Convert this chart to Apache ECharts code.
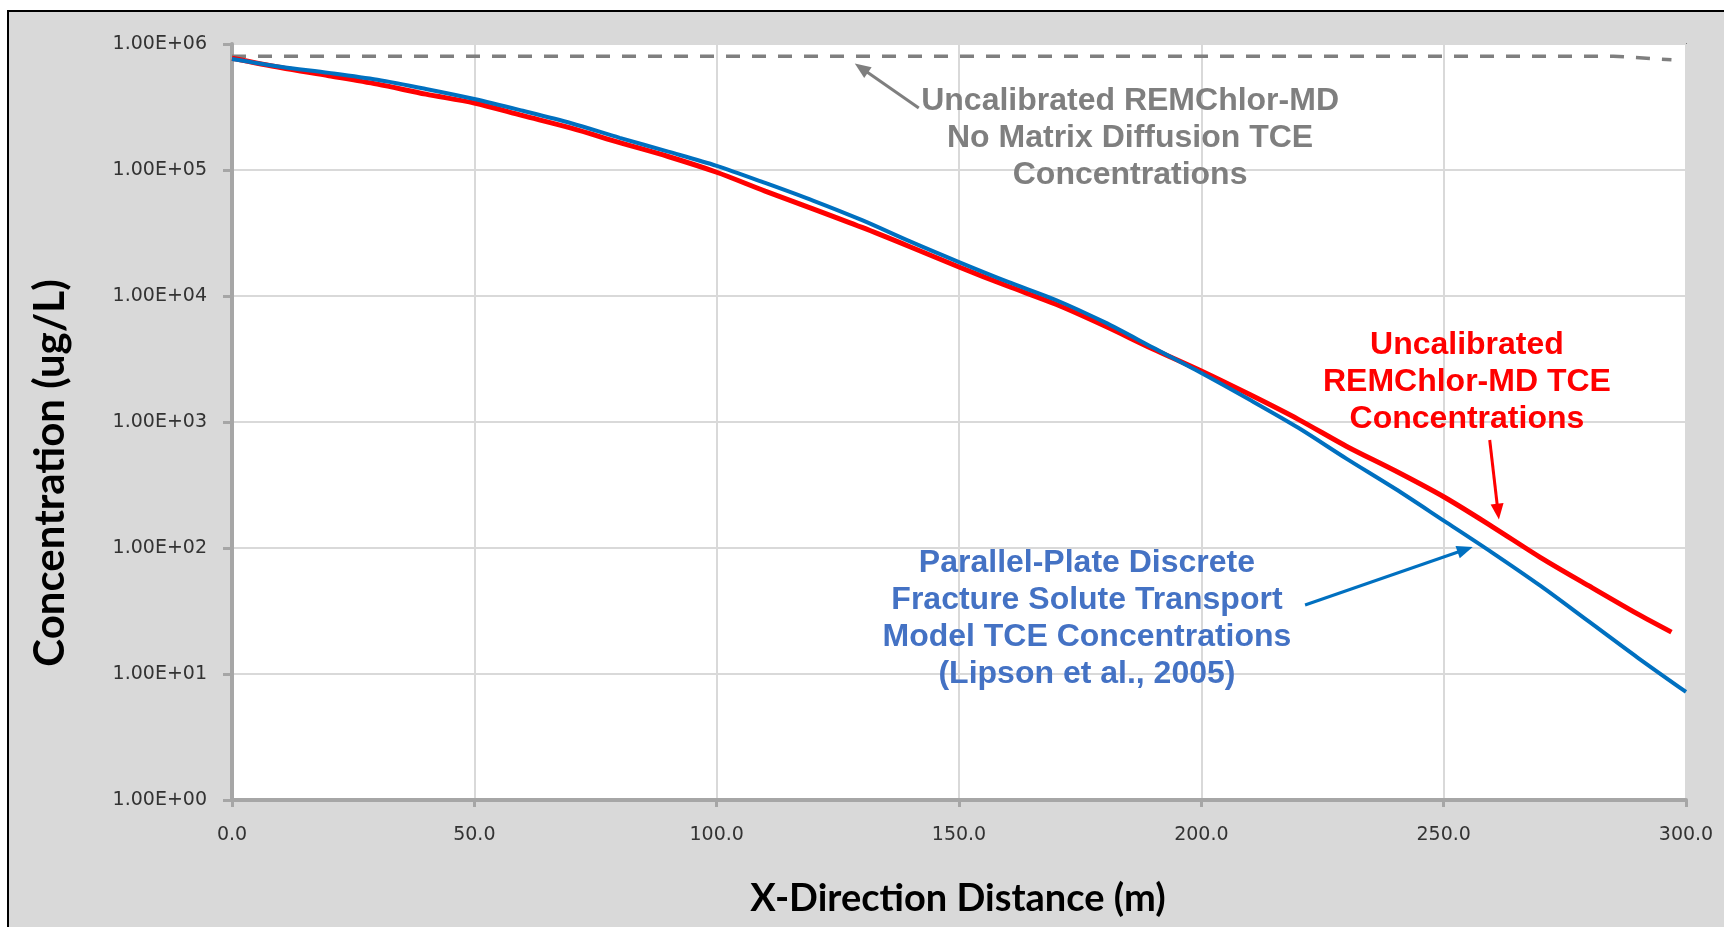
<!DOCTYPE html>
<html>
<head>
<meta charset="utf-8">
<script src="https://cdn.jsdelivr.net/npm/echarts@6/dist/echarts.min.js"></script>
<style>
  html, body { margin: 0; padding: 0; background: #ffffff; }
  #frame { position: absolute; left: 7px; top: 10px; width: 1800px; height: 1000px;
           background: #d9d9d9; border: 2px solid #000; }
  #chart { position: absolute; left: 0; top: 0; width: 1724px; height: 927px; }
</style>
</head>
<body>
<div id="frame"></div>
<div id="chart"></div>
<script>
// ---- data ----
const xTickLabels = ['0.0', '50.0', '100.0', '150.0', '200.0', '250.0', '300.0'];
const yTickLabels = ['1.00E+00', '1.00E+01', '1.00E+02', '1.00E+03', '1.00E+04', '1.00E+05', '1.00E+06'];

// Parallel-plate discrete fracture model (blue)
const distBlue = [0, 10, 20, 30, 40, 50, 60, 70, 80, 90, 100, 110, 120, 130, 140, 150, 160, 170, 180, 190, 200, 210, 220, 230, 240, 250, 260, 270, 280, 290, 300];
const concBlue = [760000, 660000, 590000, 520000, 440000, 366000, 295000, 235000, 180000, 140000, 108000, 79000, 57000, 40000, 27000, 18600, 13000, 9300, 6200, 3900, 2450, 1500, 900, 510, 295, 165, 92, 50, 26, 13.5, 7.2];

// Uncalibrated REMChlor-MD (red)
const distRed = [0, 10, 20, 30, 40, 50, 60, 70, 80, 90, 100, 110, 120, 130, 140, 150, 160, 170, 180, 190, 200, 210, 220, 230, 240, 250, 260, 270, 280, 290, 297];
const concRed = [770000, 650000, 560000, 480000, 400000, 340000, 270000, 215000, 165000, 128000, 96000, 68000, 49000, 35000, 24500, 17000, 12000, 8600, 5800, 3800, 2540, 1650, 1050, 640, 410, 255, 148, 84, 50, 30, 21.5];

// Uncalibrated REMChlor-MD, no matrix diffusion (gray dashed)
const distNoMD = [0, 100, 200, 285, 297];
const concNoMD = [800000, 800000, 800000, 800000, 750000];

// ---- build ----
function pairs(xs, ys) { return xs.map((x, i) => [x, ys[i]]); }

const chart = echarts.init(document.getElementById('chart'), null, { renderer: 'canvas' });

const option = {
  backgroundColor: 'transparent',
  animation: false,
  grid: {
    left: 232, right: 38, top: 44, bottom: 127,
    show: true, backgroundColor: '#ffffff', borderColor: '#7f7f7f', borderWidth: 2
  },
  xAxis: {
    type: 'value', min: 0, max: 300, interval: 50,
    axisLine: { show: true, onZero: false, lineStyle: { color: '#a6a6a6', width: 4 } },
    axisTick: { show: true, length: 7, lineStyle: { color: '#a6a6a6', width: 3 } },
    splitLine: { show: true, lineStyle: { color: '#d9d9d9', width: 2 } },
    axisLabel: {
      margin: 26, color: '#333333', fontFamily: 'DejaVu Sans', fontSize: 19,
      formatter: v => xTickLabels[Math.round(v / 50)]
    }
  },
  yAxis: {
    type: 'log', logBase: 10, min: 1, max: 1000000,
    axisLine: { show: true, lineStyle: { color: '#a6a6a6', width: 4 } },
    axisTick: { show: true, length: 9, lineStyle: { color: '#a6a6a6', width: 3 } },
    splitLine: { show: true, lineStyle: { color: '#d9d9d9', width: 2 } },
    minorTick: { show: false },
    axisLabel: {
      margin: 25, color: '#333333', fontFamily: 'DejaVu Sans', fontSize: 19,
      formatter: v => yTickLabels[Math.round(Math.log10(v))]
    }
  },
  series: [
    {
      name: 'No Matrix Diffusion', type: 'line', data: pairs(distNoMD, concNoMD),
      showSymbol: false, symbol: 'none',
      lineStyle: { color: '#7f7f7f', width: 3.5, type: [14, 12] }, z: 3
    },
    {
      name: 'Parallel-Plate', type: 'line', data: pairs(distBlue, concBlue),
      showSymbol: false, symbol: 'none', smooth: 0.3,
      lineStyle: { color: '#0070c0', width: 4 }, z: 4
    },
    {
      name: 'REMChlor-MD', type: 'line', data: pairs(distRed, concRed),
      showSymbol: false, symbol: 'none', smooth: 0.3,
      lineStyle: { color: '#ff0000', width: 5 }, z: 3
    }
  ]
};
chart.setOption(option);

// ---- annotations (placed in data coordinates) ----
const annoFont = 'bold 32px "Liberation Sans", Arial, sans-serif';
const notes = [
  { text: 'Uncalibrated REMChlor-MD\nNo Matrix Diffusion TCE\nConcentrations', at: [185.3, 178000], color: '#7f7f7f' },
  { text: 'Uncalibrated\nREMChlor-MD TCE\nConcentrations', at: [254.8, 2075], color: '#ff0000' },
  { text: 'Parallel-Plate Discrete\nFracture Solute Transport\nModel TCE Concentrations\n(Lipson et al., 2005)', at: [176.4, 27.3], color: '#4472c4' }
];
const arrows = [
  { from: [141.7, 310000], to: [128.5, 700000], color: '#7f7f7f' },
  { from: [259.5, 720], to: [261.4, 168], color: '#ff0000' },
  { from: [221.4, 35.3], to: [256.0, 102], color: '#0070c0' }
];

function px(p) { return chart.convertToPixel({ gridIndex: 0 }, p); }

const graphics = [];
notes.forEach(n => {
  const p = px(n.at);
  graphics.push({
    type: 'text', x: p[0], y: p[1], z: 100,
    style: { text: n.text, font: annoFont, fill: n.color, align: 'center', verticalAlign: 'middle', lineHeight: 37 }
  });
});
arrows.forEach(a => {
  const s = px(a.from), t = px(a.to);
  const dx = t[0] - s[0], dy = t[1] - s[1];
  const len = Math.sqrt(dx * dx + dy * dy);
  const ux = dx / len, uy = dy / len;
  const L = 16, W = 6.5;
  const bx = t[0] - ux * L, by = t[1] - uy * L;
  graphics.push({
    type: 'line', z: 100,
    shape: { x1: s[0], y1: s[1], x2: bx + ux * 2, y2: by + uy * 2 },
    style: { stroke: a.color, lineWidth: 3 }
  });
  graphics.push({
    type: 'polygon', z: 100,
    shape: { points: [[t[0], t[1]], [bx - uy * W, by + ux * W], [bx + uy * W, by - ux * W]] },
    style: { fill: a.color }
  });
});
// axis titles
graphics.push({
  type: 'text', x: 958, y: 899, z: 100,
  style: { text: 'X-Direction Distance (m)', font: 'bold 38px Lato, "Open Sans", sans-serif', fill: '#000000', align: 'center', verticalAlign: 'middle' }
});
graphics.push({
  type: 'text', x: 50, y: 473, rotation: Math.PI / 2, z: 100,
  style: { text: 'Concentration (ug/L)', font: 'bold 42px Lato, "Open Sans", sans-serif', fill: '#000000', align: 'center', verticalAlign: 'middle' }
});

chart.setOption({ graphic: graphics });
</script>
</body>
</html>
